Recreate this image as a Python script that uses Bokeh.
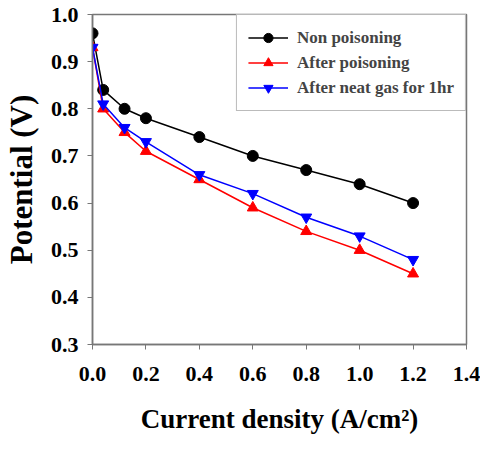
from bokeh.plotting import figure
from bokeh.embed import file_html
from bokeh.resources import INLINE
from bokeh.models import Legend, LegendItem, FixedTicker, CustomJSTickFormatter

current = [0.0, 0.04, 0.12, 0.2, 0.4, 0.6, 0.8, 1.0, 1.2]
non_poisoning = [0.96, 0.84, 0.80, 0.78, 0.74, 0.70, 0.67, 0.64, 0.60]
after_poisoning = [0.93, 0.80, 0.75, 0.71, 0.65, 0.59, 0.54, 0.50, 0.45]
after_neat_gas = [0.93, 0.81, 0.76, 0.73, 0.66, 0.62, 0.57, 0.53, 0.48]
x_ticks = [0.0, 0.2, 0.4, 0.6, 0.8, 1.0, 1.2, 1.4]
y_ticks = [0.3, 0.4, 0.5, 0.6, 0.7, 0.8, 0.9, 1.0]

FONT = "Times New Roman"

p = figure(width=480, height=436, x_range=(0, 1.4), y_range=(0.3, 1.0),
           output_backend="svg", toolbar_location=None,
           min_border_left=90, min_border_right=14, min_border_top=14, min_border_bottom=88)
p.xgrid.visible = False
p.ygrid.visible = False
p.outline_line_color = "#777777"
p.outline_line_width = 1.5
p.background_fill_color = "white"
p.border_fill_color = "white"

for ax in (p.xaxis[0], p.yaxis[0]):
    ax.axis_line_color = "#777777"
    ax.axis_line_width = 1.5
    ax.major_tick_line_color = "#777777"
    ax.major_tick_in = 0
    ax.major_tick_out = 5
    ax.minor_tick_line_color = None
    ax.major_label_text_font = FONT
    ax.major_label_text_font_style = "bold"
    ax.major_label_text_font_size = "22px"
    ax.major_label_text_color = "black"
    ax.axis_label_text_font = FONT
    ax.axis_label_text_font_style = "bold"
    ax.axis_label_text_color = "black"

p.xaxis.axis_label_text_font_size = "27px"
p.yaxis.axis_label_text_font_size = "31px"
p.xaxis.ticker = FixedTicker(ticks=x_ticks)
p.yaxis.ticker = FixedTicker(ticks=y_ticks)
p.xaxis.formatter = CustomJSTickFormatter(code="return tick.toFixed(1);")
p.yaxis.formatter = CustomJSTickFormatter(code="return tick.toFixed(1);")
p.xaxis.major_label_standoff = 17
p.yaxis.major_label_standoff = 9
p.xaxis.axis_label = "Current density (A/cm²)"
p.yaxis.axis_label = "Potential (V)"
p.xaxis.axis_label_standoff = 20
p.yaxis.axis_label_standoff = 9

l1 = p.line(current, non_poisoning, line_color="black", line_width=1.5)
m1 = p.scatter(current, non_poisoning, marker="circle", size=11, fill_color="black", line_color="black")
l2 = p.line(current, after_poisoning, line_color="red", line_width=1.5)
m2 = p.scatter(current, after_poisoning, marker="triangle", size=11, fill_color="red", line_color="red")
l3 = p.line(current, after_neat_gas, line_color="blue", line_width=1.5)
m3 = p.scatter(current, after_neat_gas, marker="inverted_triangle", size=11, fill_color="blue", line_color="blue")

legend = Legend(items=[
    LegendItem(label="Non poisoning", renderers=[l1, m1]),
    LegendItem(label="After poisoning", renderers=[l2, m2]),
    LegendItem(label="After neat gas for 1hr", renderers=[l3, m3]),
], location="top_right")
legend.label_text_font = FONT
legend.label_text_font_style = "bold"
legend.label_text_font_size = "17px"
legend.glyph_width = 40
legend.glyph_height = 23
legend.label_height = 23
legend.spacing = 2
legend.padding = 11
legend.margin = 0
legend.border_line_color = "#777777"
legend.border_line_width = 1.5
legend.label_standoff = 9
p.add_layout(legend)

open("out.html", "w").write(file_html(p, INLINE))
